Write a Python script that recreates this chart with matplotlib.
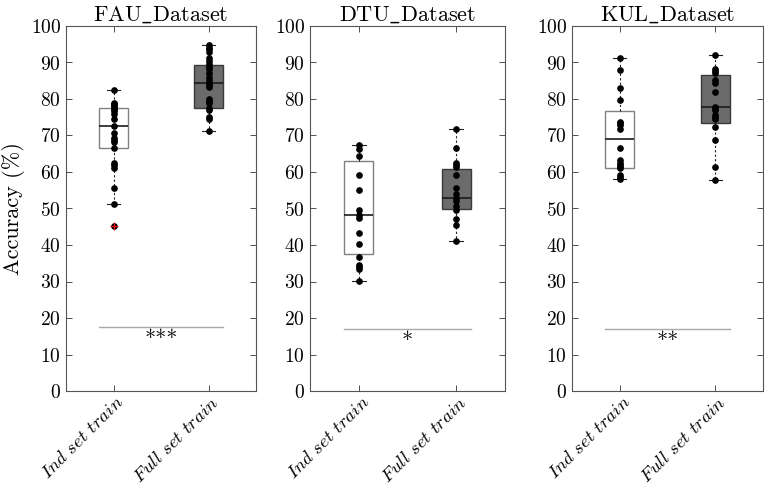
import numpy as np
import matplotlib.pyplot as plt
from matplotlib import transforms

plt.rcParams['font.family'] = ['cmr10', 'DejaVu Serif']
plt.rcParams['mathtext.fontset'] = 'cm'
plt.rcParams['axes.formatter.use_mathtext'] = True

datasets = ['FAU', 'DTU', 'KUL']
groups = ['Ind set train', 'Full set train']
stars = ['***', '*', '**']
sig_y = [17.5, 17.0, 17.0]

# individual subject accuracies
fau_ind = [82.4, 79.0, 78.6, 78.3, 77.9, 77.5, 77.2, 76.6, 76.0, 74.5, 72.7,
           70.7, 69.2, 68.7, 68.3, 66.6, 62.5, 62.0, 61.2, 55.6, 51.2, 45.2]
fau_full = [94.8, 94.1, 93.6, 93.0, 91.1, 90.4, 89.7, 88.7, 88.1, 87.2, 86.1,
            85.2, 84.4, 83.8, 83.3, 80.1, 79.5, 78.9, 77.4, 76.9, 75.1, 74.4, 71.2]
dtu_ind = [67.4, 66.2, 64.3, 59.3, 55.0, 49.6, 48.1, 47.4, 43.2, 40.3, 36.6,
           34.5, 33.9, 33.3, 30.1]
dtu_full = [71.7, 66.5, 62.6, 62.0, 61.4, 59.3, 55.7, 53.9, 52.8, 52.0, 50.8,
            49.7, 47.2, 45.5, 41.1]
kul_ind = [91.2, 87.9, 82.9, 79.6, 73.8, 73.3, 72.9, 71.7, 66.5, 63.3, 62.4,
           61.9, 61.4, 61.0, 59.2, 58.7, 58.2]
kul_full = [92.1, 88.1, 87.8, 87.2, 85.2, 84.3, 81.9, 77.9, 77.5, 77.0, 75.6,
            75.0, 74.4, 72.3, 68.7, 61.5, 57.9]

# box statistics as drawn (q1, median, q3, lower whisker, upper whisker)
fau_box = [(66.7, 72.7, 77.6, 51.2, 82.4), (77.6, 84.5, 89.3, 71.2, 94.8)]
dtu_box = [(37.5, 48.1, 63.1, 30.1, 67.4), (49.9, 52.8, 60.9, 41.1, 71.7)]
kul_box = [(61.1, 69.0, 76.7, 58.2, 91.2), (73.4, 77.9, 86.6, 57.9, 92.1)]
outliers = [[[45.2], []], [[], []], [[], []]]

points = [[fau_ind, fau_full], [dtu_ind, dtu_full], [kul_ind, kul_full]]
boxes = [fau_box, dtu_box, kul_box]

fig = plt.figure(figsize=(7.67, 4.9), dpi=100)
lefts = [66, 310, 572]
widths = [190, 195, 191]
fills = ['white', '#6b6b6b']
edges = ['#808080', '#3a3a3a']

for k in range(3):
    ax = fig.add_axes([lefts[k] / 767, 1 - 391 / 490, widths[k] / 767, 365 / 490])
    for g in range(2):
        q1, med, q3, lo, hi = boxes[k][g]
        st = dict(q1=q1, med=med, q3=q3, whislo=lo, whishi=hi, fliers=[])
        ax.bxp([st], positions=[g + 1], widths=0.3, patch_artist=True,
               showfliers=False,
               boxprops=dict(facecolor=fills[g], edgecolor=edges[g], lw=1.0),
               medianprops=dict(color='#1a1a1a', lw=1.2),
               whiskerprops=dict(color='#222222', lw=0.8, ls=(0, (2, 2))),
               capprops=dict(color='#222222', lw=0.8), capwidths=0.14)
        y = points[k][g]
        ax.plot(np.full(len(y), g + 1.0), y, 'o', color='black', ms=3.8,
                zorder=5)
        if outliers[k][g]:
            ax.plot(np.full(len(outliers[k][g]), g + 1.0), outliers[k][g], '+',
                    color='red', ms=6, mew=0.8, zorder=6)
    ax.plot([0.85, 2.15], [sig_y[k], sig_y[k]], color='#a8a8a8', lw=1.0)
    ax.text(1.5, sig_y[k] - 0.6, stars[k], ha='center', va='top', fontsize=16)

    ax.set_xlim(0.5, 2.5)
    ax.set_ylim(0, 100)
    ax.set_yticks(np.arange(0, 101, 10))
    ax.set_xticks([1, 2])
    ax.tick_params(direction='in', length=4, width=0.6, labelsize=14,
                   right=True, top=True, colors='#333333', labelcolor='black')
    ax.tick_params(axis='x', pad=6, labelsize=13.5)
    ax.set_xticklabels([r'$\mathit{' + g.replace(' ', r'\ ') + '}$' for g in groups],
                       rotation=45, ha='right', va='center',
                       rotation_mode='anchor', fontsize=13.5)
    # nudge the slanted labels to the right, as in the original
    off = transforms.ScaledTranslation(8 / 100, 0, fig.dpi_scale_trans)
    for lab in ax.get_xticklabels():
        lab.set_transform(lab.get_transform() + off)
    for s in ax.spines.values():
        s.set_color('#555555')
        s.set_linewidth(0.8)
    ax.set_title(r'$\mathrm{' + datasets[k] + r'\_Dataset}$', fontsize=16, pad=4)
    if k == 0:
        ax.set_ylabel('Accuracy (%)', fontsize=16, labelpad=4)

fig.savefig('out.png', dpi=100)
